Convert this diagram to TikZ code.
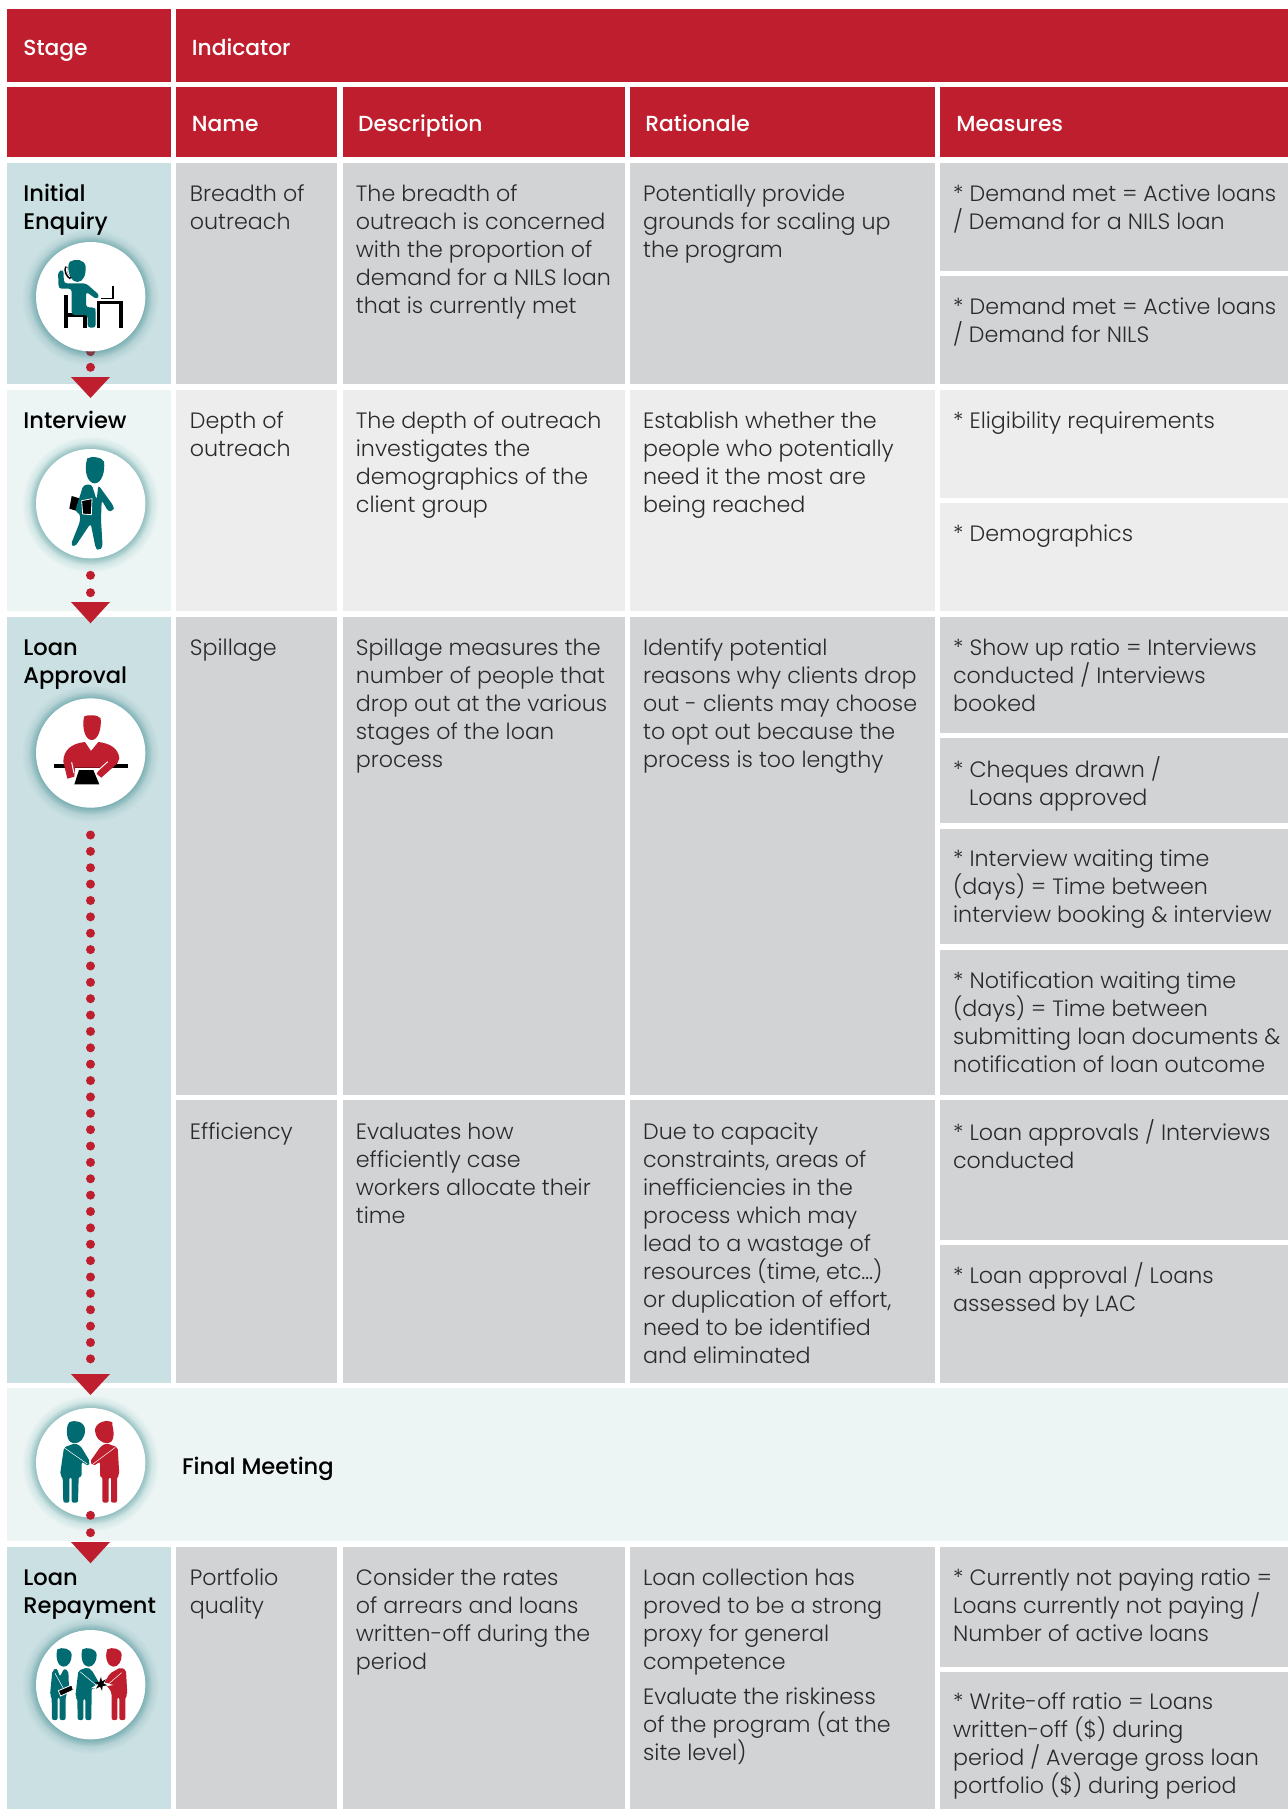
\documentclass[tikz,border=0pt]{standalone}
\usepackage{fontspec}
\setmainfont{Poppins Light}
\newfontfamily\medfont{Poppins Medium}
\normallineskiplimit=-100pt
\lineskiplimit=-100pt
\AtBeginDocument{\normallineskiplimit=-100pt \lineskiplimit=-100pt}
\definecolor{nilsred}{HTML}{BE1E2D}
\definecolor{stageA}{HTML}{CAE0E3}
\definecolor{stageB}{HTML}{ECF5F4}
\definecolor{cellA}{HTML}{D1D3D4}
\definecolor{cellB}{HTML}{EDEDEE}
\definecolor{nilsteal}{HTML}{006B70}
\definecolor{glow}{HTML}{1F7F85}
\definecolor{bodyink}{HTML}{2A2A2A}
\newcommand{\bfsize}{\fontsize{11.1pt}{14pt}\selectfont}
\newcommand{\stsize}{\fontsize{11.3pt}{14pt}\selectfont}
\newcommand{\hdsize}{\fontsize{10.9pt}{14pt}\selectfont}
\tikzset{
  x=0.5pt,y=-0.5pt,
  bodytext/.style={anchor=north west,inner sep=0pt,align=left,text=bodyink,font=\bfsize},
  stagetext/.style={anchor=north west,inner sep=0pt,align=left,text=black,font=\stsize\medfont},
  headtext/.style={anchor=north west,inner sep=0pt,align=left,text=white,font=\hdsize\medfont},
  dotmark/.style={circle,fill=nilsred,inner sep=0pt,minimum size=4.5pt},
  arrowhead/.style={fill=nilsred},
  bluef/.style={fill=nilsteal},
  redf/.style={fill=nilsred},
  blackf/.style={fill=black},
}
% \tb{name}{style}{x}{first baseline y}{text}
\newcommand{\tb}[5]{\node[#2] (#1) at (#3,{#4-19.6}) {\strut #5};}
% \cellbox{colour}{x0}{y0}{x1}{y1}
\newcommand{\cellbox}[5]{\fill[#1] (#2,#3) rectangle (#4,#5);}
% \badge{name}{y}
\newcommand{\badge}[2]{%
  \foreach \r in {68,67,...,55}{\fill[glow,opacity=0.016] (90.7,{#2+1}) circle[radius=\r];}
  \foreach \r in {61,60,...,55}{\fill[glow,opacity=0.038] (90.7,{#2+0.5}) circle[radius=\r];}
  \node[circle,fill=white,inner sep=0pt,minimum size=54.7pt] (#1) at (90.7,#2) {};}
\newcommand{\tri}[2]{\fill[arrowhead] (71,#1) -- (110,#1) -- (90.5,#2) -- cycle;}
\begin{document}
\begin{tikzpicture}
\useasboundingbox (0,0) rectangle (1288,1809);
\fill[white] (0,0) rectangle (1288,1809);
% header
\cellbox{nilsred}{7}{9}{171}{82}
\cellbox{nilsred}{176}{9}{1288}{82}
\cellbox{nilsred}{7}{87.5}{171}{157}
\cellbox{nilsred}{176}{87.5}{337}{157}
\cellbox{nilsred}{343}{87.5}{624.5}{157}
\cellbox{nilsred}{629.5}{87.5}{935}{157}
\cellbox{nilsred}{940}{87.5}{1288}{157}
% stage column
\cellbox{stageA}{7}{163}{171}{384}
\cellbox{stageB}{7}{390}{171}{611}
\cellbox{stageA}{7}{617}{171}{1383}
\cellbox{stageB}{7}{1388}{1288}{1541}
\cellbox{stageA}{7}{1547}{171}{1809}
% row 1
\cellbox{cellA}{176}{163}{337}{384}
\cellbox{cellA}{343}{163}{624.5}{384}
\cellbox{cellA}{629.5}{163}{935}{384}
\cellbox{cellA}{940}{163}{1288}{271}
\cellbox{cellA}{940}{276}{1288}{384}
% row 2
\cellbox{cellB}{176}{390}{337}{611}
\cellbox{cellB}{343}{390}{624.5}{611}
\cellbox{cellB}{629.5}{390}{935}{611}
\cellbox{cellB}{940}{390}{1288}{497.5}
\cellbox{cellB}{940}{502.5}{1288}{611}
% row 3
\cellbox{cellA}{176}{617}{337}{1095}
\cellbox{cellA}{343}{617}{624.5}{1095}
\cellbox{cellA}{629.5}{617}{935}{1095}
\cellbox{cellA}{940}{617}{1288}{733}
\cellbox{cellA}{940}{738}{1288}{823}
\cellbox{cellA}{940}{828.5}{1288}{944}
\cellbox{cellA}{940}{950}{1288}{1095}
% row 4
\cellbox{cellA}{176}{1100}{337}{1383}
\cellbox{cellA}{343}{1100}{624.5}{1383}
\cellbox{cellA}{629.5}{1100}{935}{1383}
\cellbox{cellA}{940}{1100}{1288}{1239.5}
\cellbox{cellA}{940}{1244.5}{1288}{1383}
% row 5
\cellbox{cellA}{176}{1547}{337}{1809}
\cellbox{cellA}{343}{1547}{624.5}{1809}
\cellbox{cellA}{629.5}{1547}{935}{1809}
\cellbox{cellA}{940}{1547}{1288}{1666.5}
\cellbox{cellA}{940}{1671.5}{1288}{1809}
% header text
\tb{hStage}{headtext}{23}{55.5}{Stage}
\tb{hIndicator}{headtext}{191.5}{55.5}{Indicator}
\tb{hName}{headtext}{191.5}{131.5}{Name}
\tb{hDesc}{headtext}{357.7}{131.5}{Description}
\tb{hRat}{headtext}{645}{131.5}{Rationale}
\tb{hMeas}{headtext}{956}{131.5}{Measures}
% stages
\tb{sInitial}{stagetext}{23}{201.5}{Initial\\Enquiry}
\tb{sInterview}{stagetext}{23}{428.5}{Interview}
\tb{sApproval}{stagetext}{23}{655.5}{Loan\\Approval}
\tb{sFinal}{stagetext}{181.7}{1474.5}{Final Meeting}
\tb{sRepay}{stagetext}{23}{1585.5}{Loan\\Repayment}
% row 1 text
\tb{n1}{bodytext}{189.5}{201.5}{Breadth of\\outreach}
\tb{d1}{bodytext}{355.5}{201.5}{The breadth of\\outreach is concerned\\with the proportion of\\demand for a NILS loan\\that is currently met}
\tb{r1}{bodytext}{642.7}{201.5}{Potentially provide\\grounds for scaling up\\the program}
\tb{m1a}{bodytext}{952.7}{201.5}{* Demand met = Active loans\\/ Demand for a NILS loan}
\tb{m1b}{bodytext}{952.7}{314.5}{* Demand met = Active loans\\/ Demand for NILS}
% row 2 text
\tb{n2}{bodytext}{189.5}{428.5}{Depth of\\outreach}
\tb{d2}{bodytext}{355.5}{428.5}{The depth of outreach\\investigates the\\demographics of the\\client group}
\tb{r2}{bodytext}{642.7}{428.5}{Establish whether the\\people who potentially\\need it the most are\\being reached}
\tb{m2a}{bodytext}{952.7}{428.5}{* Eligibility requirements}
\tb{m2b}{bodytext}{952.7}{541.5}{* Demographics}
% row 3 text
\tb{n3}{bodytext}{189.5}{655.5}{Spillage}
\tb{d3}{bodytext}{355.5}{655.5}{Spillage measures the\\number of people that\\drop out at the various\\stages of the loan\\process}
\tb{r3}{bodytext}{642.7}{655.5}{Identify potential\\reasons why clients drop\\out - clients may choose\\to opt out because the\\process is too lengthy}
\tb{m3a}{bodytext}{952.7}{655.5}{* Show up ratio = Interviews\\conducted / Interviews\\booked}
\tb{m3b}{bodytext}{952.7}{776}{* Cheques drawn /\\\hspace*{8pt}Loans approved}
\tb{m3c}{bodytext}{952.7}{866.5}{* Interview waiting time\\(days) = Time between\\interview booking \& interview}
\tb{m3d}{bodytext}{952.7}{988}{* Notification waiting time\\(days) = Time between\\submitting loan documents \&\\notification of loan outcome}
% row 4 text
\tb{n4}{bodytext}{189.5}{1139}{Efficiency}
\tb{d4}{bodytext}{355.5}{1139}{Evaluates how\\efficiently case\\workers allocate their\\time}
\tb{r4}{bodytext}{642.7}{1139}{Due to capacity\\constraints, areas of\\inefficiencies in the\\process which may\\lead to a wastage of\\resources (time, etc…)\\or duplication of effort,\\need to be identified\\and eliminated}
\tb{m4a}{bodytext}{952.7}{1138.5}{* Loan approvals / Interviews\\conducted}
\tb{m4b}{bodytext}{952.7}{1281.5}{* Loan approval / Loans\\assessed by LAC}
% row 5 text
\tb{n5}{bodytext}{189.5}{1585.5}{Portfolio\\quality}
\tb{d5}{bodytext}{355.5}{1585.5}{Consider the rates\\of arrears and loans\\written-off during the\\period}
\tb{r5}{bodytext}{642.7}{1585.5}{Loan collection has\\proved to be a strong\\proxy for general\\competence}
\tb{r5b}{bodytext}{642.7}{1704}{Evaluate the riskiness\\of the program (at the\\site level)}
\tb{m5a}{bodytext}{952.7}{1585.5}{* Currently not paying ratio =\\Loans currently not paying /\\Number of active loans}
\tb{m5b}{bodytext}{952.7}{1709.5}{* Write-off ratio = Loans\\written-off (\$) during\\period / Average gross loan\\portfolio (\$) during period}
% dots and badges
\node[dotmark] (dA) at (90.5,351.7) {};
\node[dotmark] (dB) at (90.5,367.3) {};
\badge{b1}{296.7}
\tri{377}{398}
\badge{b2}{503.7}
\node[dotmark] (dC) at (90.5,575.3) {};
\node[dotmark] (dD) at (90.5,592.7) {};
\tri{602}{623.3}
\badge{b3}{753}
\foreach \k in {0,...,32}{\node[dotmark] (dl\k) at (90.5,{835+16.37*\k}) {};}
\tri{1374}{1395}
\badge{b4}{1462.7}
\badge{b5}{1684.7}
\node[dotmark] (dE) at (90.5,1515.3) {};
\node[dotmark] (dF) at (90.5,1532.7) {};
\tri{1542}{1563.3}
% icon 1
\begin{scope}[shift={(0,150)},x=0.16667pt,y=-0.16667pt]
 \fill[blackf] (192,435) rectangle (204,533);
 \fill[blackf] (204,490) rectangle (262,502);
 \fill[blackf] (250,495) rectangle (262,533);
 \fill[blackf] (292,453) rectangle (368,462);
 \fill[blackf] (292,453) rectangle (301,533);
 \fill[blackf] (358,453) rectangle (368,533);
 \fill[blackf] (302,443) rectangle (342,448);
 \fill[blackf] (336,408) rectangle (342,448);
 \fill[bluef] (210,335) .. controls (225,325) and (255,328) .. (257,350) .. controls (258,375) and (250,396) .. (232,396) .. controls (215,396) and (205,375) .. (205,352) .. controls (205,345) and (206,338) .. (210,335) -- cycle;
 \fill[bluef,rounded corners=1.5pt] (174,365) -- (190,358) -- (192,400) -- (258,400) -- (299,436) -- (290,448) -- (258,425) -- (258,472) -- (284,472) -- (287,480) -- (287,533) -- (263,533) -- (263,495) -- (215,495) -- (215,416) -- (176,416) -- cycle;
 \draw[black,line width=1.3pt] (199,350) .. controls (193,362) and (200,378) .. (212,385);
 \draw[white,line width=0.4pt] (200,353) .. controls (197,364) and (203,375) .. (210,381);
\end{scope}
% icon 2
\begin{scope}[shift={(0,150)},x=0.16667pt,y=-0.16667pt]
 \fill[blackf] (215,1038) -- (238,1045) -- (228,1082) -- (208,1076) -- cycle;
 \fill[bluef] (262,925) .. controls (275,918) and (305,920) .. (312,935) .. controls (316,965) and (305,1000) .. (284,1000) .. controls (262,1000) and (250,960) .. (262,925) -- cycle;
 \fill[bluef,rounded corners=1.5pt] (250,1005) -- (275,1003) -- (290,1050) -- (295,1005) -- (342,1070) -- (340,1082) -- (325,1085) -- (305,1050) -- (303,1110) -- (308,1192) -- (296,1201) -- (287,1195) -- (272,1120) -- (225,1190) -- (212,1185) -- (240,1115) -- (240,1090) -- (225,1085) -- cycle;
 \fill[blackf,draw=white,line width=0.4pt] (245,1052) -- (276,1046) -- (274,1094) -- (248,1092) -- cycle;
\end{scope}
% icon 3
\begin{scope}[shift={(0,620)},x=0.16667pt,y=-0.16667pt]
 \fill[blackf] (162,432) rectangle (384,444);
 \fill[redf] (252,290) .. controls (262,283) and (295,284) .. (302,295) .. controls (305,325) and (295,360) .. (275,360) .. controls (256,360) and (245,325) .. (252,290) -- cycle;
 \fill[redf] (255,366) -- (273,393) -- (295,366) .. controls (330,370) and (355,385) .. (358,415) -- (352,430) -- (304,473) -- (290,462) -- (300,443) -- (225,443) -- (223,470) -- (202,476) -- (190,425) .. controls (190,390) and (215,370) .. (255,366) -- cycle;
 \draw[white,line width=0.5pt] (215,427) -- (222,460);
 \draw[white,line width=0.5pt] (323,425) -- (290,455);
 \fill[blackf] (237,450) -- (280,450) -- (298,493) -- (223,493) -- cycle;
 \draw[white,line width=0.3pt] (234,447) -- (284,447);
\end{scope}
% icon 4
\begin{scope}[shift={(0,1360)},x=0.16667pt,y=-0.16667pt]
 \fill[bluef] (208,187) .. controls (225,178) and (255,185) .. (255,210) .. controls (255,235) and (240,250) .. (222,250) .. controls (205,250) and (196,225) .. (203,195) -- cycle;
 \fill[bluef,rounded corners=1pt] (192,262) -- (225,250) -- (242,258) -- (270,305) -- (265,318) -- (245,305) -- (245,350) -- (236,350) -- (234,428) -- (215,428) -- (215,352) -- (208,352) -- (208,428) -- (190,428) -- (188,350) -- (180,345) -- cycle;
 \draw[white,line width=0.25pt] (194,264) -- (262,312);
 \fill[redf] (337,187) .. controls (320,178) and (290,185) .. (285,208) .. controls (285,235) and (305,250) .. (322,250) .. controls (340,250) and (345,225) .. (337,195) -- cycle;
 \fill[redf,rounded corners=1pt] (353,262) -- (320,250) -- (303,258) -- (270,305) -- (280,318) -- (300,305) -- (300,350) -- (307,350) -- (307,428) -- (326,428) -- (326,352) -- (333,352) -- (333,428) -- (351,428) -- (351,350) -- (358,345) -- cycle;
 \draw[white,line width=0.25pt] (346,262) -- (276,314);
\end{scope}
% icon 5
\begin{scope}[shift={(0,1360)},x=0.16667pt,y=-0.16667pt]
 \fill[bluef] (172,868) .. controls (185,860) and (215,865) .. (215,885) .. controls (215,905) and (205,920) .. (190,920) .. controls (175,920) and (165,895) .. (172,868) -- cycle;
 \fill[bluef,rounded corners=1pt] (157,932) -- (170,924) -- (180,950) -- (192,926) -- (205,932) -- (207,985) -- (197,1010) -- (197,1080) -- (179,1080) -- (179,1012) -- (173,1012) -- (173,1080) -- (156,1080) -- (155,1010) -- (150,1005) -- cycle;
 \draw[white,line width=0.25pt] (165,940) -- (190,985);
 \fill[blackf,draw=white,line width=0.4pt] (175,992) -- (215,975) -- (220,990) -- (182,1008) -- cycle;
 \fill[bluef] (247,868) .. controls (260,860) and (290,865) .. (290,885) .. controls (290,905) and (280,920) .. (265,920) .. controls (250,920) and (240,895) .. (247,868) -- cycle;
 \fill[bluef,rounded corners=1pt] (235,932) -- (262,922) -- (275,930) -- (298,970) -- (290,985) -- (275,985) -- (274,1080) -- (256,1080) -- (256,1016) -- (250,1016) -- (250,1080) -- (233,1080) -- (232,1015) -- (226,1010) -- cycle;
 \draw[white,line width=0.25pt] (240,935) -- (292,978);
 \fill[redf] (322,868) .. controls (335,860) and (365,865) .. (365,885) .. controls (365,905) and (355,920) .. (340,920) .. controls (325,920) and (312,895) .. (322,868) -- cycle;
 \fill[redf,rounded corners=1pt] (362,922) -- (378,930) -- (382,1005) -- (376,1010) -- (376,1080) -- (358,1080) -- (358,1012) -- (352,1012) -- (352,1080) -- (335,1080) -- (335,1000) -- (328,985) -- (312,970) -- (330,940) -- cycle;
 \draw[white,line width=0.25pt] (365,938) -- (318,978);
 \fill[white] (303,948) -- (308,966) -- (340,975) -- (310,980) -- (303,998) -- (298,982) -- (272,985) -- (296,970) -- cycle;
 \fill[blackf] (303,950) -- (306,964) -- (318,958) -- (310,970) -- (322,976) -- (308,978) -- (306,992) -- (300,980) -- (288,986) -- (295,974) -- (284,966) -- (298,966) -- cycle;
\end{scope}
\end{tikzpicture}
\end{document}
